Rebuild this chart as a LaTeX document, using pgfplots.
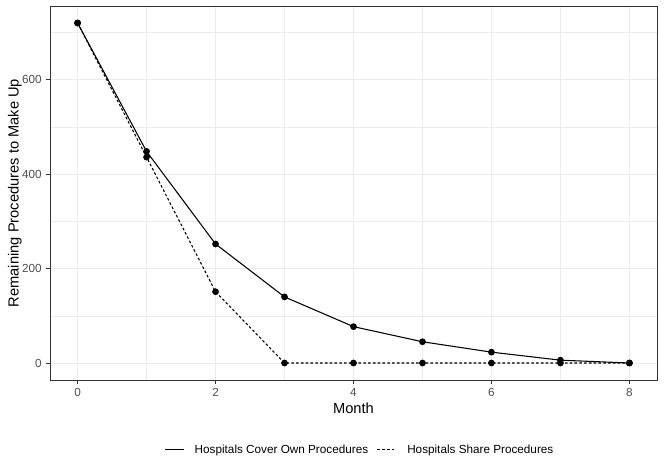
\documentclass[border=0pt]{standalone}
\usepackage{fontspec}
\setmainfont{Liberation Sans}
\usepackage{pgfplots}
\pgfplotsset{compat=1.18}
\definecolor{gridgray}{HTML}{EBEBEB}
\definecolor{framegray}{HTML}{333333}
\definecolor{tickgray}{HTML}{4D4D4D}
\begin{document}
\begin{tikzpicture}
  \useasboundingbox (-37.5pt,-61.5pt) rectangle (460.5pt,285pt);
  \begin{axis}[
    scale only axis,
    at={(0pt,0pt)}, anchor=south west,
    width=455.25pt, height=280.5pt,
    xmin=-0.4, xmax=8.4,
    ymin=-36, ymax=756,
    xtick={0,2,4,6,8},
    ytick={0,200,400,600},
    minor xtick={1,3,5,7},
    minor ytick={100,300,500,700},
    grid=both,
    major grid style={draw=gridgray, line width=0.55pt},
    minor grid style={draw=gridgray, line width=0.3pt},
    axis line style={draw=framegray, line width=0.55pt},
    tick align=outside, tick pos=left,
    major tick length=2.75pt, minor tick length=0pt,
    tick style={draw=framegray, line width=0.55pt},
    /pgf/number format/assume math mode=true,
    ticklabel style={font=\fontsize{8.8}{10}\selectfont, text=tickgray},
    xlabel={Month}, ylabel={Remaining Procedures to Make Up},
    label style={font=\fontsize{11}{13}\selectfont, text=black},
    xlabel style={yshift=2pt},
    ylabel style={yshift=-6.5pt},
    legend columns=2,
    legend style={
      at={(0.511,-0.187)}, anchor=center, draw=none, fill=none,
      font=\fontsize{8.8}{10}\selectfont,
      /tikz/every odd column/.append style={column sep=6pt},
      /tikz/every even column/.append style={column sep=4.5pt}
    },
    legend image code/.code={
      \draw[#1, mark=none] (0pt,0pt) -- (14pt,0pt);
    },
  ]
    \addplot[black, line width=0.8pt, mark=*, mark size=2.1pt, mark options={solid, fill=black}]
      coordinates {(0,720) (1,448) (2,252) (3,140) (4,77) (5,45) (6,23) (7,6) (8,0)};
    \addlegendentry{Hospitals Cover Own Procedures}
    \addplot[black, line width=0.8pt, dash pattern=on 2pt off 1.6pt, mark=*, mark size=2.1pt, mark options={solid, fill=black}]
      coordinates {(0,720) (1,436) (2,151) (3,0) (4,0) (5,0) (6,0) (7,0) (8,0)};
    \addlegendentry{Hospitals Share Procedures}
  \end{axis}
\end{tikzpicture}
\end{document}
